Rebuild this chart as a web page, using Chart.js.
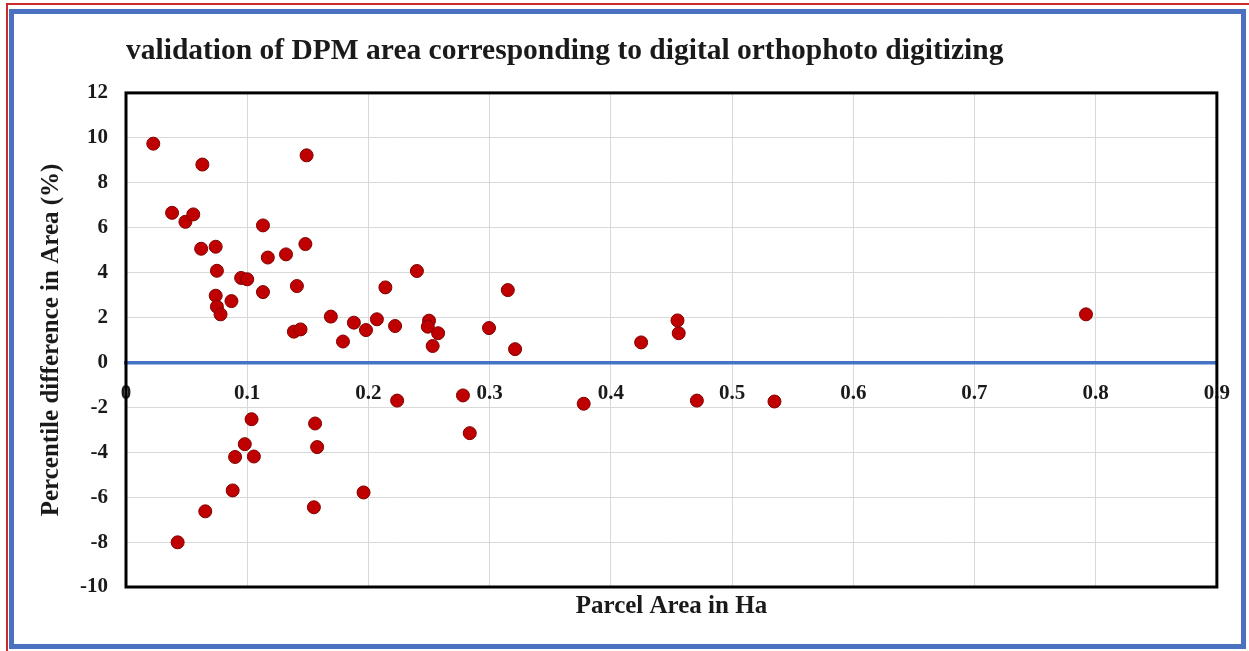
<!DOCTYPE html>
<html>
<head>
    <meta charset="utf-8">
    <title>validation of DPM area corresponding to digital orthophoto digitizing</title>
    <script src="https://cdn.jsdelivr.net/npm/chart.js"></script>
    <style>
        html, body {
            margin: 0;
            padding: 0;
            background: #ffffff;
            overflow: hidden;
        }
        #page {
            position: relative;
            width: 1249px;
            height: 651px;
        }
        .red-edge {
            position: absolute;
            left: 6px;
            top: 3px;
            right: 0;
            bottom: 0;
            border-top: 2px solid #cc2b2b;
            border-left: 2px solid #cc2b2b;
        }
        .blue-frame {
            position: absolute;
            left: 9px;
            top: 9px;
            width: 1237px;
            height: 640px;
            box-sizing: border-box;
            border: 5px solid #4a72c1;
        }
        #chart-box {
            position: absolute;
            left: 0;
            top: 0;
            width: 1249px;
            height: 651px;
        }
    </style>
</head>
<body>
<div id="page">
    <div class="red-edge"></div>
    <div class="blue-frame"></div>
    <div id="chart-box"><canvas id="myChart"></canvas></div>
</div>

<script>
    // parcel area (Ha) and percent difference
    const parcelArea = [
        0.0225, 0.063, 0.038, 0.049, 0.0555, 0.062, 0.074, 0.075, 0.074, 0.075,
        0.078, 0.087, 0.095, 0.100, 0.113, 0.117, 0.113, 0.132, 0.149, 0.148,
        0.141, 0.1385, 0.144, 0.169, 0.179, 0.188, 0.198, 0.207, 0.214, 0.222,
        0.240, 0.250, 0.249, 0.2575, 0.253, 0.2995, 0.315, 0.321, 0.425, 0.455,
        0.456, 0.792,
        0.2237, 0.278, 0.3776, 0.156, 0.2836, 0.1036, 0.098, 0.090, 0.1055, 0.088,
        0.0654, 0.0426, 0.1577, 0.155, 0.196, 0.471, 0.535
    ];
    const diffPercent = [
        9.74, 8.81, 6.66, 6.26, 6.59, 5.06, 5.15, 4.08, 2.97, 2.48,
        2.14, 2.73, 3.76, 3.70, 6.10, 4.67, 3.13, 4.81, 9.22, 5.27,
        3.40, 1.37, 1.47, 2.04, 0.93, 1.77, 1.44, 1.92, 3.34, 1.62,
        4.07, 1.86, 1.59, 1.30, 0.73, 1.53, 3.22, 0.59, 0.89, 1.87,
        1.30, 2.14,
        -1.70, -1.47, -1.84, -2.72, -3.15, -2.53, -3.64, -4.21, -4.19, -5.70,
        -6.63, -8.01, -3.77, -6.45, -5.79, -1.70, -1.74
    ];
    const xTickLabels = ['0', '0.1', '0.2', '0.3', '0.4', '0.5', '0.6', '0.7', '0.8', '0.9'];
    const yTickLabels = ['-10', '-8', '-6', '-4', '-2', '0', '2', '4', '6', '8', '10', '12'];

    const points = parcelArea.map((a, i) => ({ x: a, y: diffPercent[i] }));

    const serif = "'Liberation Serif', 'Times New Roman', serif";
    const ink = '#1a1a1a';

    // black frame round the plot area
    const plotFrame = {
        id: 'plotFrame',
        afterDraw(chart) {
            const { ctx, chartArea } = chart;
            ctx.save();
            ctx.strokeStyle = '#000000';
            ctx.lineWidth = 3;
            ctx.strokeRect(chartArea.left, chartArea.top,
                chartArea.right - chartArea.left, chartArea.bottom - chartArea.top);
            ctx.restore();
        }
    };

    new Chart(document.getElementById('myChart'), {
        type: 'scatter',
        data: {
            datasets: [{
                label: 'Percentile difference in Area (%)',
                data: points,
                backgroundColor: '#c00000',
                borderColor: '#800000',
                borderWidth: 1,
                pointRadius: 6.5,
                pointHoverRadius: 6.5
            }]
        },
        options: {
            responsive: true,
            maintainAspectRatio: false,
            animation: false,
            layout: {
                padding: { left: 37, right: 32, top: 34, bottom: 29 }
            },
            plugins: {
                legend: { display: false },
                tooltip: { enabled: false },
                title: {
                    display: true,
                    text: 'validation of DPM area corresponding to digital orthophoto digitizing',
                    align: 'start',
                    fullSize: false,
                    color: ink,
                    font: { family: serif, size: 29.5, weight: 'bold' },
                    padding: { top: 0, bottom: 23.5 }
                }
            },
            scales: {
                x: {
                    type: 'linear',
                    position: 'bottom',
                    min: 0,
                    max: 0.9,
                    afterFit(scale) { scale.height = 35; },
                    ticks: {
                        display: false,
                        stepSize: 0.1
                    },
                    grid: {
                        color: '#d9d9d9',
                        drawTicks: false
                    },
                    border: { display: false },
                    title: {
                        display: true,
                        text: 'Parcel Area in Ha',
                        color: ink,
                        font: { family: serif, size: 25, weight: 'bold' },
                        padding: 0
                    }
                },
                xZero: {
                    type: 'linear',
                    axis: 'x',
                    position: { y: 0 },
                    min: 0,
                    max: 0.9,
                    z: 1,
                    grid: { display: false, drawTicks: false },
                    border: { display: true, color: '#4472c4', width: 3.5 },
                    ticks: {
                        stepSize: 0.1,
                        padding: 19,
                        color: ink,
                        maxRotation: 0,
                        autoSkip: false,
                        font: { family: serif, size: 21, weight: 'bold' },
                        callback: (v, i) => xTickLabels[i]
                    }
                },
                y: {
                    min: -10,
                    max: 12,
                    afterFit(scale) { scale.width = 89; },
                    ticks: {
                        stepSize: 2,
                        padding: 18,
                        color: ink,
                        font: { family: serif, size: 21, weight: 'bold' },
                        callback: (v, i) => yTickLabels[i]
                    },
                    grid: {
                        color: '#d9d9d9',
                        drawTicks: false
                    },
                    border: { display: false },
                    title: {
                        display: true,
                        text: 'Percentile difference in Area (%)',
                        color: ink,
                        font: { family: serif, size: 25, weight: 'bold' },
                        padding: 0
                    }
                }
            }
        },
        plugins: [plotFrame]
    });
</script>
</body>
</html>
